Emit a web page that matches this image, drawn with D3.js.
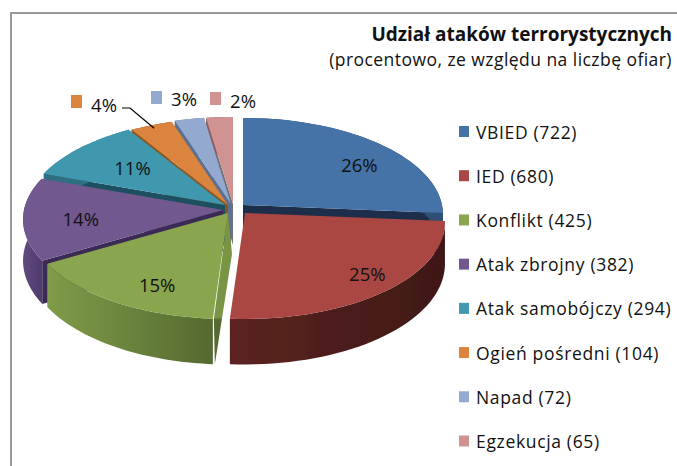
<!DOCTYPE html>
<html><head><meta charset="utf-8">
<script src="https://cdnjs.cloudflare.com/ajax/libs/d3/7.8.5/d3.min.js"></script>
<style>html,body{margin:0;padding:0;background:#fff}svg{display:block}text{fill:#111;font-family:"Open Sans",sans-serif}</style>
</head><body><svg id="c" width="677" height="466"></svg>
<script>
const categories=["VBIED","IED","Konflikt","Atak zbrojny","Atak samobójczy","Ogień pośredni","Napad","Egzekucja"];
const values=[722,680,425,382,294,104,72,65];
const percentLabels=["26%","25%","15%","14%","11%","4%","3%","2%"];
const titleText="Udział ataków terrorystycznych";
const subtitleText="(procentowo, ze względu na liczbę ofiar)";
const topColors=["#4572a7","#aa4643","#89a54e","#71588f","#4198af","#db843d","#93a9cf","#d19392"];
const faceColors=["#1b2f4a","#000","#7a9445","#3b2a55","#1f4f5f","#8a5420","#5d6f8f","#6f6f7a"];
const wallLeft=["#2f4f75","#5c2421","#7f9c49","#62497f","#2f6f80","#8a5420","#5d6f8f","#8a5f5f"];
const wallRight=["#2f4f75","#3e1815","#556930","#4e3b6c","#2f6f80","#8a5420","#5d6f8f","#8a5f5f"];
// layout
const apexX=[243,245,228,223,225,228,231,233], apexY=[205,213,213,210,205,205,204,204];
const faceEdge=["end","none","start","start","start","start","start","start"];
const labelR=[.757,.828,.775,.714,.636], labelShift=[6.4,-3.7,-6.5,-1.5,1.4];
const outsideX=[104,184,243], outsideY=[104,98,100];
const keyX=[71,151,210], keyY=[95,91,92];
const drawOrder=[7,6,5,4,0,3,2,1];
const rx=199, ry=95.6, k=.098, depth=41;
const svg=d3.select("#c"), defs=svg.append("defs");
defs.append("filter").attr("id","soft").append("feGaussianBlur").attr("stdDeviation",.45);
const arcs=d3.pie().sort(null)(values);
const proj=(i,a,r=1,d=0)=>{const u=r*Math.sin(a),v=r*Math.cos(a),w=1+k*v;return [apexX[i]+rx*u/w,apexY[i]-ry*v/w+d/w];};
const line=d3.line();
const samples=(a0,a1)=>d3.range(0,41).map(t=>a0+(a1-a0)*t/40);
// frame
svg.append("path").attr("d","M11,466V13H677").attr("fill","none").attr("stroke","#999").attr("stroke-width",2);
const pie=svg.append("g").attr("filter","url(#soft)");
drawOrder.forEach(i=>{
  const s=arcs[i], g=pie.append("g");
  const xs=samples(s.startAngle,s.endAngle);
  const gid="w"+i;
  const lg=defs.append("linearGradient").attr("id",gid).attr("gradientUnits","userSpaceOnUse")
    .attr("x1",d3.min(xs,a=>proj(i,a)[0])).attr("x2",d3.max(xs,a=>proj(i,a)[0])).attr("y1",0).attr("y2",0);
  lg.append("stop").attr("offset",0).attr("stop-color",wallLeft[i]);
  lg.append("stop").attr("offset",1).attr("stop-color",wallRight[i]);
  // cut face
  if(faceEdge[i]!=="none"){
    const a=faceEdge[i]==="end"?s.endAngle:s.startAngle;
    const pts=[proj(i,0,0),proj(i,a),proj(i,a,1,depth),proj(i,0,0,depth)];
    if(i===2){pts[2][0]+=2;pts[1][0]+=1;pts[3][0]+=4;}
    let fill=faceColors[i];
    if(i===2){
      const fg=defs.append("linearGradient").attr("id","fg").attr("gradientUnits","userSpaceOnUse").attr("x1",0).attr("x2",0).attr("y1",pts[1][1]-1).attr("y2",pts[1][1]+1);
      fg.append("stop").attr("offset",0).attr("stop-color",faceColors[i]);
      fg.append("stop").attr("offset",1).attr("stop-color",wallRight[i]);
      fill="url(#fg)";
    }
    g.append("path").attr("d",line(pts)+"Z").attr("fill",fill);
  }
  // outer wall
  g.append("path").attr("d",line([...xs.map(a=>proj(i,a)),...xs.slice().reverse().map(a=>proj(i,a,1,depth))])+"Z").attr("fill",`url(#${gid})`);
  // top
  g.append("path").attr("d",line([proj(i,0,0),...xs.map(a=>proj(i,a))])+"Z").attr("fill",topColors[i]);
});
// inside labels
labelR.forEach((r,i)=>{
  const mid=(arcs[i].startAngle+arcs[i].endAngle)/2+labelShift[i]*Math.PI/180;
  const p=proj(i,mid,r);
  svg.append("text").attr("x",p[0]).attr("y",p[1]).attr("text-anchor","middle").attr("dominant-baseline","central").attr("font-size",18.5).text(percentLabels[i]);
});
// outside labels with keys
outsideX.forEach((x,j)=>{
  const i=5+j;
  svg.append("rect").attr("x",keyX[j]).attr("y",keyY[j]).attr("width",11).attr("height",13).attr("fill",topColors[i]);
  svg.append("text").attr("x",x).attr("y",outsideY[j]).attr("text-anchor","middle").attr("dominant-baseline","central").attr("font-size",18.5).text(percentLabels[i]);
});
// leader
const tip=proj(5,(arcs[5].startAngle+arcs[5].endAngle)/2,.96);
svg.append("path").attr("d",line([[outsideX[0]+18,outsideY[0]+4],[outsideX[0]+26,outsideY[0]+4],tip])).attr("fill","none").attr("stroke","#000").attr("stroke-width",1.2);
// legend
const ly=d3.scalePoint().domain(categories).range([131.5,441]);
const leg=svg.append("g");
categories.forEach((c,i)=>{
  leg.append("rect").attr("x",459).attr("y",ly(c)-5.5).attr("width",10).attr("height",11).attr("fill",topColors[i]);
  leg.append("text").attr("x",476).attr("y",ly(c)).attr("dominant-baseline","central").attr("font-size",17.5).attr("letter-spacing",.66).text(`${c} (${values[i]})`);
});
// title
svg.append("text").attr("x",672).attr("y",41).attr("text-anchor","end").attr("font-size",19).attr("font-weight",700).text(titleText);
svg.append("text").attr("x",672).attr("y",65.5).attr("text-anchor","end").attr("font-size",17.5).attr("letter-spacing",.45).text(subtitleText);
</script></body></html>
